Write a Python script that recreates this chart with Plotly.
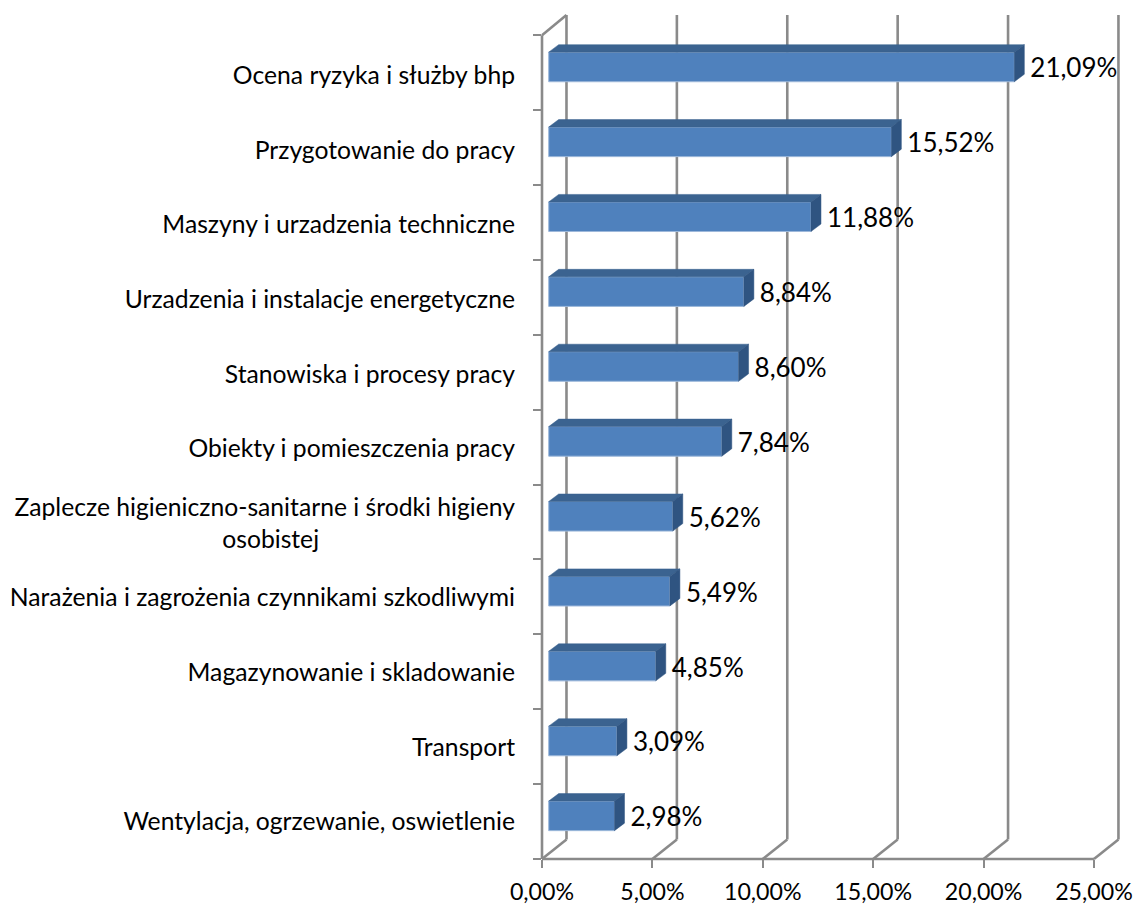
import plotly.graph_objects as go

categories = ["Ocena ryzyka i służby bhp", "Przygotowanie do pracy", "Maszyny i urzadzenia techniczne",
              "Urzadzenia i instalacje energetyczne", "Stanowiska i procesy pracy", "Obiekty i pomieszczenia pracy",
              "Zaplecze higieniczno-sanitarne i środki higieny<br>osobistej" + "\u00a0" * 31,
              "Narażenia i zagrożenia czynnikami szkodliwymi", "Magazynowanie i skladowanie",
              "Transport", "Wentylacja, ogrzewanie, oswietlenie"]
values = [21.09, 15.52, 11.88, 8.84, 8.60, 7.84, 5.62, 5.49, 4.85, 3.09, 2.98]
value_labels = ["21,09%", "15,52%", "11,88%", "8,84%", "8,60%", "7,84%", "5,62%", "5,49%", "4,85%", "3,09%", "2,98%"]
x_ticks = [0, 5, 10, 15, 20, 25]
x_tick_labels = ["0,00%", "5,00%", "10,00%", "15,00%", "20,00%", "25,00%"]

# Plot geometry: px per unit on each axis
W, H = 1135, 904
L, R, T, B = 541.7, 1120.0, 14.5, 858.7
PX_X = 22.09
PX_Y = 74.9
XMAX = (R - L) / PX_X
YMIN, YMAX = -0.5, 10.5 + 20.2 / PX_Y
WALL_DX, WALL_DY = 24.5 / PX_X, 19.5 / PX_Y      # depth of the back wall
BAR_BASE = 6.7 / PX_X                            # front face offset from the axis
BAR_SHIFT = 5.7 / PX_Y                           # front face shift above the slot centre
BAR_H = 29.6 / PX_Y
BAR_DX, BAR_DY = 10 / PX_X, 7.5 / PX_Y           # bar depth
LABEL_GAP = 6 / PX_X
LABEL_DROP = 4 / PX_Y
CATEGORY_PITCH = 74.6 / PX_Y                     # category labels sit a little tighter than the ticks

GRID = "#8A8A8A"
FRONT, TOP, SIDE = "#4F81BD", "#3B6390", "#2F5481"
FONT = "Lato"
n = len(categories)
ypos = [n - 1 - i for i in range(n)]
centres = [y + BAR_SHIFT for y in ypos]
label_pos = [y * CATEGORY_PITCH for y in ypos]


def px(x):
    return x / XMAX


def py(y):
    return (y - YMIN) / (YMAX - YMIN)


def line(x0, y0, x1, y1):
    return dict(type="line", xref="paper", yref="paper", layer="below",
                x0=px(x0), y0=py(y0), x1=px(x1), y1=py(y1), line=dict(color=GRID, width=2.6))


shapes = [line(0, YMIN, 0, 10.5), line(0, YMIN, 25, YMIN), line(0, 10.5, WALL_DX, YMAX)]
for t in x_ticks:
    shapes.append(line(t, YMIN, t + WALL_DX, YMIN + WALL_DY))
    shapes.append(line(t + WALL_DX, YMIN + WALL_DY, t + WALL_DX, YMAX))

fig = go.Figure()
fig.add_trace(go.Bar(x=values, y=centres, base=BAR_BASE, orientation="h", width=BAR_H,
                     marker=dict(color=FRONT, line=dict(color="#9DB8DA", width=1)), hoverinfo="skip"))

top_x, top_y, side_x, side_y = [], [], [], []
for v, c in zip(values, centres):
    b = BAR_BASE
    e = v + b
    t = c + BAR_H / 2
    u = c - BAR_H / 2
    top_x += [b, e, e + BAR_DX, b + BAR_DX, b, None]
    top_y += [t, t, t + BAR_DY, t + BAR_DY, t, None]
    side_x += [e, e, e + BAR_DX, e + BAR_DX, e, None]
    side_y += [u, t, t + BAR_DY, u + BAR_DY, u, None]
fig.add_trace(go.Scatter(x=top_x, y=top_y, mode="lines", fill="toself", fillcolor=TOP,
                         line=dict(color=TOP, width=0.5), hoverinfo="skip"))
fig.add_trace(go.Scatter(x=side_x, y=side_y, mode="lines", fill="toself", fillcolor=SIDE,
                         line=dict(color=SIDE, width=0.5), hoverinfo="skip"))
fig.add_trace(go.Scatter(x=[v + BAR_BASE + BAR_DX + LABEL_GAP for v in values], y=[c - LABEL_DROP for c in centres],
                         mode="text", text=value_labels, textposition="middle right", cliponaxis=False,
                         textfont=dict(family=FONT, size=26, color="#000000"), hoverinfo="skip"))

fig.update_layout(
    width=W, height=H, showlegend=False, paper_bgcolor="white", plot_bgcolor="white",
    margin=dict(l=L, r=W - R, t=T, b=H - B, pad=0), shapes=shapes,
    xaxis=dict(range=[0, XMAX], tickvals=x_ticks, ticktext=x_tick_labels, ticks="outside", ticklen=8,
               tickwidth=2, tickcolor=GRID, showgrid=False, zeroline=False, showline=False, automargin=False,
               ticklabelstandoff=4, tickfont=dict(family=FONT, size=23.2, color="#000000")),
    yaxis=dict(range=[YMIN, YMAX], tickvals=label_pos, ticktext=categories, ticks="", showgrid=False,
               zeroline=False, showline=False, ticklabelstandoff=26, automargin=False,
               tickfont=dict(family=FONT, size=24.7, color="#000000"),
               minor=dict(tickvals=[y + 0.5 for y in range(-1, n)], ticks="outside", ticklen=8,
                          tickwidth=1.5, tickcolor=GRID, showgrid=False)),
)
fig.write_html("out.html", config={"displayModeBar": False},
               post_script="document.body.style.margin='0';document.body.style.overflow='hidden';")
